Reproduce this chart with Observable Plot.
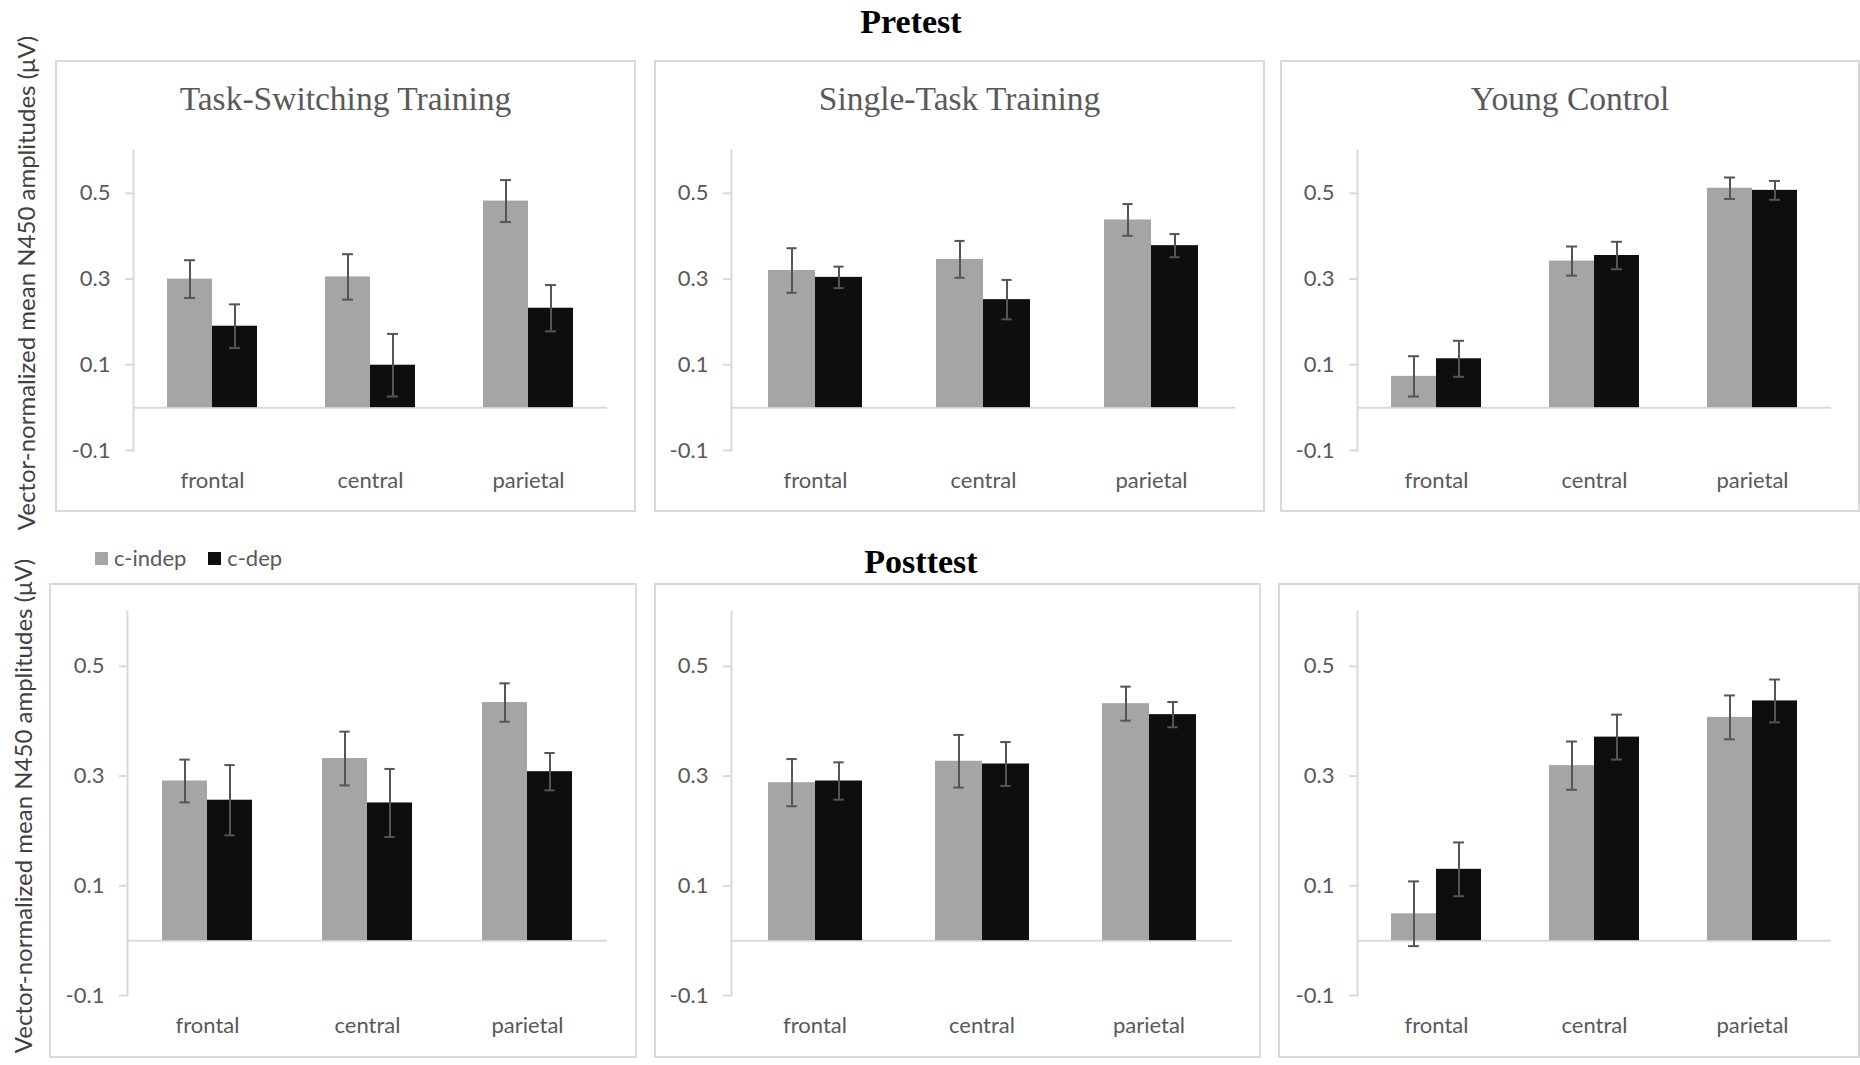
<!DOCTYPE html>
<html>
<head>
<meta charset="utf-8">
<script src="https://cdn.jsdelivr.net/npm/d3@7"></script>
<script src="https://cdn.jsdelivr.net/npm/@observablehq/plot@0.6"></script>
<style>
html, body { margin: 0; padding: 0; background: #fff; }
#root { position: relative; width: 1860px; height: 1065px; overflow: hidden; background: #fff; font-family: Lato, sans-serif; }
.frame { position: absolute; box-sizing: border-box; border: 2px solid #d9d9d9; }
.panel { position: absolute; }
.panel svg { display: block; overflow: visible; }
.ptitle { position: absolute; font-family: "Liberation Serif", serif; font-size: 33.5px; color: #595959; white-space: nowrap; transform: translateX(-50%); line-height: 1; }
.phase { position: absolute; font-family: "Liberation Serif", serif; font-weight: bold; font-size: 34px; color: #000; white-space: nowrap; transform: translateX(-50%); line-height: 1; }
.ylab { position: absolute; font-family: Lato, sans-serif; font-size: 24px; color: #404040; white-space: nowrap; transform: translate(-50%, -50%) rotate(-90deg); line-height: 1; }
.legend { position: absolute; display: flex; align-items: center; font-family: Lato, sans-serif; font-size: 22px; color: #595959; line-height: 1; }
.legend .sw { width: 13px; height: 13px; display: inline-block; margin-right: 6px; }
.legend .item { display: flex; align-items: center; margin-right: 22px; }
</style>
</head>
<body>
<div id="root"></div>
<script>
// ---- data ----
const regions = ["frontal", "central", "parietal"];
const conditions = ["c-indep", "c-dep"];
const conditionColors = ["#a5a5a5", "#0e0e0e"];
const groups = ["Task-Switching Training", "Single-Task Training", "Young Control"];
const phases = ["Pretest", "Posttest"];
const yTicks = [-0.1, 0.1, 0.3, 0.5];
const yLabel = "Vector-normalized mean N450 amplitudes (μV)";

// Pretest
const preTS_indep = [0.300, 0.305, 0.482];
const preTS_indepErr = [0.044, 0.053, 0.049];
const preTS_dep = [0.190, 0.099, 0.232];
const preTS_depErr = [0.051, 0.073, 0.054];

const preST_indep = [0.320, 0.346, 0.438];
const preST_indepErr = [0.052, 0.043, 0.037];
const preST_dep = [0.304, 0.252, 0.378];
const preST_depErr = [0.025, 0.046, 0.027];

const preYC_indep = [0.073, 0.342, 0.512];
const preYC_indepErr = [0.047, 0.034, 0.025];
const preYC_dep = [0.114, 0.355, 0.507];
const preYC_depErr = [0.042, 0.032, 0.022];

// Posttest
const postTS_indep = [0.291, 0.332, 0.434];
const postTS_indepErr = [0.039, 0.049, 0.035];
const postTS_dep = [0.256, 0.251, 0.308];
const postTS_depErr = [0.064, 0.062, 0.034];

const postST_indep = [0.288, 0.327, 0.432];
const postST_indepErr = [0.043, 0.048, 0.031];
const postST_dep = [0.291, 0.322, 0.412];
const postST_depErr = [0.034, 0.040, 0.023];

const postYC_indep = [0.049, 0.319, 0.407];
const postYC_indepErr = [0.059, 0.044, 0.040];
const postYC_dep = [0.130, 0.371, 0.437];
const postYC_depErr = [0.049, 0.041, 0.039];

// ---- layout ----
const root = document.getElementById("root");
function addDiv(cls, text, css) {
  const d = document.createElement("div");
  d.className = cls;
  if (text != null) d.textContent = text;
  Object.assign(d.style, css);
  root.appendChild(d);
  return d;
}

const panels = [
  {title: groups[0], indep: preTS_indep, indepErr: preTS_indepErr, dep: preTS_dep, depErr: preTS_depErr,
   left: 55, top: 60, width: 581, height: 452, ml: 78, mr: 29, mt: 90, mb: 62},
  {title: groups[1], indep: preST_indep, indepErr: preST_indepErr, dep: preST_dep, depErr: preST_depErr,
   left: 654, top: 60, width: 611, height: 452, ml: 77, mr: 30, mt: 90, mb: 62},
  {title: groups[2], indep: preYC_indep, indepErr: preYC_indepErr, dep: preYC_dep, depErr: preYC_depErr,
   left: 1280, top: 60, width: 580, height: 452, ml: 77, mr: 29, mt: 90, mb: 62},
  {title: null, indep: postTS_indep, indepErr: postTS_indepErr, dep: postTS_dep, depErr: postTS_depErr,
   left: 49, top: 583, width: 588, height: 475, ml: 77, mr: 30, mt: 28, mb: 63},
  {title: null, indep: postST_indep, indepErr: postST_indepErr, dep: postST_dep, depErr: postST_depErr,
   left: 654, top: 583, width: 607, height: 475, ml: 77, mr: 29, mt: 28, mb: 63},
  {title: null, indep: postYC_indep, indepErr: postYC_indepErr, dep: postYC_dep, depErr: postYC_depErr,
   left: 1278, top: 583, width: 582, height: 475, ml: 78, mr: 29, mt: 28, mb: 63}
];

const paddingOuter = 0.755;

panels.forEach(p => {
  addDiv("frame", null, {left: p.left + "px", top: p.top + "px", width: p.width + "px", height: p.height + "px"});
  const rows = [];
  regions.forEach((r, i) => {
    rows.push({region: r, condition: conditions[0], value: p.indep[i], err: p.indepErr[i]});
    rows.push({region: r, condition: conditions[1], value: p.dep[i], err: p.depErr[i]});
  });
  const facetW = (p.width - p.ml - p.mr) / regions.length;
  const barW = facetW / (2 + 2 * paddingOuter);
  const capInset = Math.max(0, (barW - 11) / 2);
  const errStyle = {stroke: "#555555", strokeWidth: 2};
  const svg = Plot.plot({
    width: p.width,
    height: p.height,
    marginLeft: p.ml,
    marginRight: p.mr,
    marginTop: p.mt,
    marginBottom: p.mb,
    style: {fontFamily: "Lato, sans-serif", fontSize: "22px", color: "#595959", background: "transparent", overflow: "visible"},
    fx: {domain: regions, padding: 0, axis: "bottom", tickSize: 0, tickPadding: 22, label: null},
    x: {domain: conditions, paddingInner: 0, paddingOuter: paddingOuter, axis: null},
    y: {domain: [-0.1, 0.6]},
    color: {domain: conditions, range: conditionColors},
    marks: [
      Plot.ruleY([0], {stroke: "#d9d9d9", strokeWidth: 2}),
      Plot.barY(rows, {fx: "region", x: "condition", y: "value", fill: "condition"}),
      Plot.ruleX(rows, {fx: "region", x: "condition", y1: d => d.value - d.err, y2: d => d.value + d.err, ...errStyle}),
      Plot.tickY(rows, {fx: "region", x: "condition", y: d => d.value + d.err, insetLeft: capInset, insetRight: capInset, ...errStyle}),
      Plot.tickY(rows, {fx: "region", x: "condition", y: d => d.value - d.err, insetLeft: capInset, insetRight: capInset, ...errStyle}),
      Plot.frame({anchor: "left", fx: () => regions[0], stroke: "#d9d9d9", strokeWidth: 2}),
      Plot.axisY({ticks: yTicks, tickSize: 8, tickPadding: 15, tickFormat: d => d.toFixed(1), stroke: "#d9d9d9", strokeWidth: 2, fill: "#595959", fontSize: 22, label: null})
    ]
  });
  const holder = addDiv("panel", null, {left: p.left + "px", top: p.top + "px", width: p.width + "px", height: p.height + "px"});
  holder.appendChild(svg);
  if (p.title) {
    addDiv("ptitle", p.title, {left: (p.left + p.width / 2) + "px", top: (p.top + 22) + "px"});
  }
});

// phase headings
addDiv("phase", phases[0], {left: "911px", top: "5px"});
addDiv("phase", phases[1], {left: "921px", top: "545px"});

// y labels
addDiv("ylab", yLabel, {left: "26px", top: "283px"});
addDiv("ylab", yLabel, {left: "23px", top: "806px"});

// legend
const leg = addDiv("legend", null, {left: "95px", top: "545px", height: "26px"});
conditions.forEach((c, i) => {
  const it = document.createElement("div");
  it.className = "item";
  const sw = document.createElement("span");
  sw.className = "sw";
  sw.style.background = conditionColors[i];
  const t = document.createElement("span");
  t.textContent = c;
  it.appendChild(sw); it.appendChild(t);
  leg.appendChild(it);
});
</script>
</body>
</html>
